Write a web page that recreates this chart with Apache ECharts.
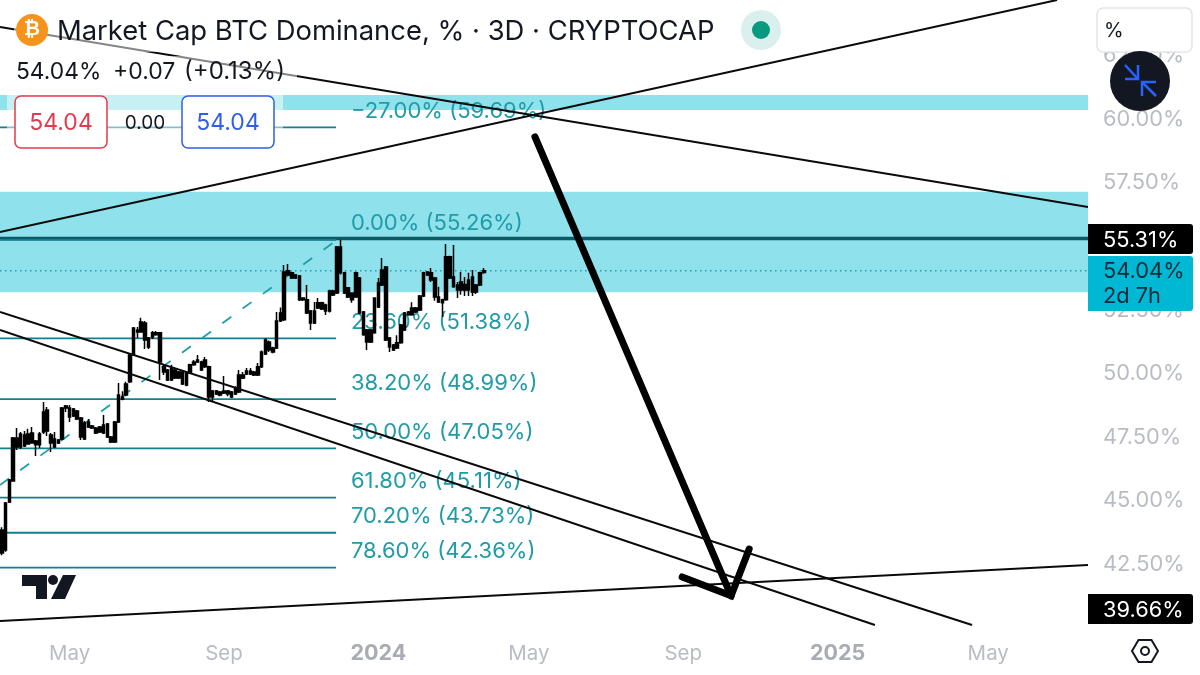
<!DOCTYPE html>
<html><head><meta charset="utf-8">
<style>html,body{margin:0;padding:0;background:#fff}#c{width:1200px;height:675px}</style>
<script src="https://cdn.jsdelivr.net/npm/echarts@6/dist/echarts.min.js"></script></head>
<body><div id="c"></div>
<script>
const opens=[42.93,43.05,44.94,45.77,47.11,47.11,47.15,47.22,47.26,47.19,
47.19,47.7,48.56,47.58,47.42,47.26,47.42,48.64,48.64,48.33,
48.52,48.25,47.42,48.09,47.93,47.85,47.7,47.66,48.01,47.5,
47.3,48.09,49.07,49.15,49.67,50.73,51.71,51.63,51.99,51.4,
51.44,51.6,51.6,50.26,50.14,49.74,50.14,49.82,50.06,49.55,
50.02,50.34,50.45,50.45,50.26,50.26,49.07,49.31,49.15,49.23,
49.31,49.27,49.19,49.27,49.94,49.98,50.1,49.94,49.94,50.26,
50.77,51.24,51.0,51.0,52.07,52.11,54.04,53.96,53.88,53.84,
52.97,52.9,52.46,51.99,52.78,52.78,52.7,52.46,53.25,53.17,
54.98,53.96,53.37,53.17,53.01,53.76,52.42,51.71,51.24,51.6,
52.62,53.48,54.19,51.4,51.12,51.0,51.21,51.71,52.42,52.31,
52.58,52.5,53.05,53.99,53.96,53.76,53.01,52.9,52.9,54.59,
53.8,53.48,53.29,53.5,53.29,53.8,53.48,53.48,53.97];
const closes=[43.84,44.9,45.81,47.46,47.46,47.62,47.58,47.62,47.66,47.34,
47.62,48.48,47.74,47.26,47.11,47.38,48.64,48.72,48.29,48.6,
48.21,47.5,48.05,47.89,47.85,47.66,47.89,47.97,47.5,47.3,
48.09,49.15,48.99,49.59,50.73,51.79,51.63,52.03,51.32,51.04,
51.6,51.52,50.45,50.06,49.74,50.22,49.82,50.06,49.59,50.02,
50.34,50.45,50.53,50.14,50.53,49.07,49.31,49.19,49.27,49.31,
49.19,49.07,49.43,49.94,49.82,50.1,49.98,50.06,50.26,50.85,
51.32,50.92,50.85,52.07,52.38,53.99,53.88,53.76,53.76,52.9,
52.9,52.38,51.99,52.46,52.58,52.54,52.46,53.25,53.09,54.98,
53.96,53.17,53.01,52.9,53.96,52.38,51.52,51.24,51.71,52.97,
53.56,54.07,51.32,51.04,50.92,51.21,51.91,52.38,52.31,52.58,
52.42,53.05,53.96,53.88,53.68,53.01,52.81,52.78,54.59,53.76,
53.41,53.29,53.6,53.29,53.68,53.2,53.21,53.96,54.04];
const lows=[42.85,42.98,44.9,45.77,46.99,47.03,47.11,47.19,47.26,46.75,
47.07,47.62,47.54,46.91,47.07,47.22,47.38,48.48,48.09,48.29,
48.17,47.38,47.38,47.85,47.81,47.62,47.66,47.62,47.46,47.26,
47.26,48.05,48.95,49.1,49.63,50.69,51.4,51.6,50.96,50.96,
51.36,51.48,49.74,49.94,49.7,49.7,49.78,49.78,49.55,49.5,
49.98,50.3,50.41,50.1,50.22,48.88,48.88,49.15,49.1,49.19,
49.1,49.03,49.15,49.23,49.78,49.94,49.94,49.9,49.9,50.22,
50.73,50.85,50.8,50.96,52.03,52.07,53.84,53.72,53.72,52.85,
52.85,52.34,51.71,51.95,52.54,52.5,52.3,52.4,53.05,53.13,
53.9,53.13,52.97,52.78,52.97,52.34,51.48,50.92,51.2,51.56,
52.58,53.44,51.28,50.85,50.88,50.96,51.17,51.67,52.27,52.27,
52.38,52.46,53.01,53.84,53.6,52.86,52.77,52.22,52.86,53.72,
53.37,52.97,53.1,53.05,53.05,53.05,53.13,53.44,53.93];
const highs=[43.95,44.94,45.85,47.5,47.85,47.7,47.74,47.82,47.89,47.38,
47.7,48.88,48.68,47.66,47.7,47.42,48.68,48.76,48.76,48.64,
48.56,48.29,48.13,48.21,47.97,47.89,47.93,48.37,48.05,47.54,
48.13,49.63,49.3,49.67,50.77,51.83,51.83,52.19,52.07,51.44,
51.67,51.67,51.63,50.34,50.18,50.34,50.18,50.1,50.1,50.06,
50.38,50.53,50.73,50.5,50.65,50.3,49.35,49.35,49.31,49.9,
49.35,49.31,49.5,50.14,50.06,50.22,50.22,50.1,50.41,50.9,
51.4,51.3,51.05,52.42,52.6,54.27,54.31,54.0,53.92,53.88,
53.0,53.48,52.5,52.81,52.97,52.82,52.74,53.3,53.3,55.02,
55.26,54.0,53.4,53.2,54.0,53.8,52.46,51.75,51.75,53.0,
53.76,54.55,54.23,51.44,51.16,51.5,51.95,52.42,52.46,52.8,
52.62,53.09,54.0,54.03,54.15,53.8,53.41,52.94,55.1,54.63,
55.06,53.6,53.99,53.8,53.96,54.07,53.52,54.0,54.15];

const tickLabels=['May','Sep','2024','May','Sep','2025','May'];
const tickDates=['2023-05-01','2023-09-01','2024-01-01','2024-05-01','2024-09-01','2025-01-01','2025-05-01'];
const yTicks=[42.5,45,47.5,50,52.5,55,57.5,60,62.5];
const fibLevels=[59.69,55.26,51.38,48.99,47.05,45.11,43.73,42.36];
const fibPercents=['−27.00%','0.00%','23.60%','38.20%','50.00%','61.80%','70.20%','78.60%'];
const zoneUpper=[[60.96,60.37],[57.15,53.2]];
const alertLevel=55.31, lastPrice=54.04;
const trendA=[[-0.5,55.57],[280.27,64.7]];
const trendB=[[-0.5,63.64],[288.5,56.55]];
const trendC=[[-0.5,52.42],[257.7,40.1]];
const trendD=[[-0.5,51.71],[231.9,40.1]];
const trendE=[[-0.5,40.26],[288.5,42.46]];
const fibDiagonal=[[-0.5,45.61],[89.8,55.34]];
const arrowShaft=[[141.6,59.31],[193.7,41.25]];
const arrowHead=[[180.7,41.99],[193.7,41.25],[198.5,43.09]];

const BAR_COUNT=289;
const categories=[];
{const d=new Date(Date.UTC(2023,2,8));
 for(let i=0;i<BAR_COUNT;i++){categories.push(d.toISOString().slice(0,10));d.setUTCDate(d.getUTCDate()+3);}}
const tickIndex={};
tickDates.forEach((t,k)=>{const i=categories.findIndex(c=>c>=t);tickIndex[i]=tickLabels[k];});
const candles=opens.map((o,i)=>[o,closes[i],lows[i],highs[i]]);

const FONT='Inter, "Noto Sans", sans-serif';
const X0=-0.5,X1=288.5,FIB_END=88.75,FIB_TEXT=92.7;
const line=(data,color,width,extra)=>Object.assign({type:'line',xAxisIndex:1,yAxisIndex:0,data,symbol:'none',silent:true,animation:false,clip:true,
  lineStyle:{color,width},z:5},extra||{});

const series=[
 {type:'line',xAxisIndex:1,data:[[X0,50]],symbol:'none',lineStyle:{width:0},silent:true,animation:false,z:1,
  markArea:{silent:true,animation:false,itemStyle:{color:'#8fe1eb'},
   data:zoneUpper.map(z=>[{yAxis:z[0]},{yAxis:z[1]}])}},
 line([[X0,lastPrice],[X1,lastPrice]],'#14a5b4',1.5,{lineStyle:{color:'#14a5b4',width:1.5,type:[1.5,3.5]},z:2}),
 line([[X0,alertLevel],[X1,alertLevel]],'#0c5a68',3.5,{z:2}),
 ...fibLevels.map(v=>line([[X0,v],[FIB_END,v]],'#147f8e',1.8,{z:2})),
 line(fibDiagonal,'#1f9ea8',1.8,{lineStyle:{color:'#1f9ea8',width:1.8,type:[11,14]},z:2}),
 {type:'scatter',xAxisIndex:1,symbolSize:0.01,silent:true,animation:false,z:3,itemStyle:{opacity:1},
  data:fibLevels.map((v,i)=>({value:[FIB_TEXT,v],label:{formatter:fibPercents[i]+' ('+v.toFixed(2)+'%)'}})),
  label:{show:true,position:'right',distance:0,offset:[0,-16],opacity:1,fontFamily:FONT,fontSize:22,color:'#1f9ca8'}},
 {type:'candlestick',xAxisIndex:0,yAxisIndex:0,data:candles,barWidth:3,silent:true,animation:false,z:4,
  itemStyle:{color:'#000',color0:'#000',borderColor:'#000',borderColor0:'#000',borderWidth:1.5}},
 line(trendA,'#0a0a0a',2),line(trendB,'#0a0a0a',2),line(trendC,'#0a0a0a',2),line(trendD,'#0a0a0a',2),line(trendE,'#0a0a0a',2),
 line(arrowShaft,'#000',7,{lineStyle:{color:'#000',width:7,cap:'round'},z:6}),
 line(arrowHead,'#000',7,{lineStyle:{color:'#000',width:7,cap:'round',join:'miter'},z:6})
];

const txt=(x,y,text,size,color,extra)=>({type:'text',x,y,z:30,style:Object.assign({text,fontFamily:FONT,fontSize:size,fill:color,verticalAlign:'middle',align:'left'},extra||{})});
const rect=(x,y,w,h,fill)=>({type:'rect',z:20,shape:{x,y,width:w,height:h},style:{fill}});
const poly=(points,style,z)=>({type:'polygon',z:z||25,shape:{points},style});
const pline=(points)=>({type:'polyline',z:27,shape:{points},style:{fill:null,stroke:'#2962ff',lineWidth:2.5}});
const graphic=[
 rect(14,8,706,44,'rgba(255,255,255,0.5)'),
 rect(7,56,290,32,'rgba(255,255,255,0.5)'),
 rect(7,92,276,60,'rgba(255,255,255,0.5)'),
 {type:'circle',z:25,shape:{cx:32,cy:30,r:16},style:{fill:'#f7931a'}},
 txt(32,30,'₿',20,'#fff',{align:'center',fontWeight:'bold',fontFamily:'"DejaVu Sans", sans-serif'}),
 txt(57,31.5,'Market Cap BTC Dominance, % · 3D · CRYPTOCAP',27.4,'#131722'),
 {type:'circle',z:25,shape:{cx:761,cy:30,r:20},style:{fill:'#d9f0ee'}},
 {type:'circle',z:26,shape:{cx:761,cy:30,r:9},style:{fill:'#089981'}},
 txt(16,72,'54.04%',22.8,'#131722'),
 txt(113,72,'+0.07',23,'#131722'),
 txt(184,72,'(+0.13%)',24,'#131722'),
 {type:'rect',z:25,shape:{x:15,y:96,width:92,height:52,r:6},style:{fill:'#fff',stroke:'#e23b4e',lineWidth:1.5}},
 txt(61,123,'54.04',23,'#e23b4e',{align:'center'}),
 txt(145,123,'0.00',19,'#131722',{align:'center'}),
 {type:'rect',z:25,shape:{x:182,y:96,width:92,height:52,r:6},style:{fill:'#fff',stroke:'#2f5fe6',lineWidth:1.5}},
 txt(228,123,'54.04',23,'#2f5fe6',{align:'center'}),
 {type:'rect',z:25,shape:{x:1097,y:8,width:95,height:44,r:6},style:{fill:'#fff',stroke:'#e4e5ec',lineWidth:1.5}},
 txt(1104,31,'%',20,'#131722'),
 {type:'circle',z:26,shape:{cx:1140,cy:81,r:30},style:{fill:'#131722'}},
 pline([[1125,65],[1138,79]]),pline([[1125,79],[1138,79],[1138,65]]),
 pline([[1156,96],[1142,82]]),pline([[1156,82],[1142,82],[1142,96]]),
 {type:'rect',z:25,shape:{x:1088,y:224,width:105,height:30,r:[0,3,3,0]},style:{fill:'#000'}},
 txt(1103,240,'55.31%',21.8,'#fff'),
 {type:'rect',z:25,shape:{x:1088,y:256,width:105,height:55,r:[0,3,3,0]},style:{fill:'#00b8d4'}},
 txt(1103,271.5,'54.04%',21.8,'#0b2b3a'),
 txt(1103,296,'2d 7h',21.8,'#0b2b3a'),
 {type:'rect',z:25,shape:{x:1088,y:594,width:105,height:30,r:[0,3,3,0]},style:{fill:'#000'}},
 txt(1103,610,'39.66%',21.8,'#fff'),
 poly([[22,575],[47,575],[47,599],[36,599],[36,586],[22,586]],{fill:'#131722'}),
 poly([[63,575],[76,575],[65,599],[51,599]],{fill:'#131722'}),
 {type:'circle',z:25,shape:{cx:53,cy:580,r:5},style:{fill:'#131722'}},
 poly([[1132,651],[1138.5,640],[1151.5,640],[1158,651],[1151.5,662],[1138.5,662]],{fill:null,stroke:'#131722',lineWidth:2}),
 {type:'circle',z:25,shape:{cx:1145,cy:651,r:4},style:{fill:null,stroke:'#131722',lineWidth:2}}
];

const chart=echarts.init(document.getElementById('c'),null,{renderer:'canvas'});
chart.setOption({
 animation:false,backgroundColor:'#fff',
 grid:{left:0,right:112,top:0,bottom:50,containLabel:false},
 xAxis:[
  {type:'category',data:categories,boundaryGap:true,axisLine:{show:false},axisTick:{show:false},splitLine:{show:false},
   axisLabel:{margin:18,fontFamily:FONT,fontSize:20.5,color:'#b9bcc4',hideOverlap:false,
    interval:(i)=>tickIndex[i]!==undefined,
    formatter:(v,i)=>{const t=tickIndex[i];return t&&/^\d/.test(t)?'{b|'+t+'}':t||'';},
    rich:{b:{fontFamily:FONT,fontSize:21.5,fontWeight:'bold',color:'#a9acb5'}}}},
  {type:'value',min:X0,max:X1,show:false,splitLine:{show:false}}
 ],
 yAxis:{type:'value',position:'right',min:40.1,max:64.7,axisLine:{show:false},axisTick:{show:false},splitLine:{show:false},
  axisLabel:{customValues:yTicks,margin:15,align:'left',verticalAlignMinLabel:'middle',padding:[2,0,0,0],fontFamily:FONT,fontSize:21.8,color:'#b9bcc4',formatter:v=>v.toFixed(2)+'%'}},
 series,graphic
});
</script></body></html>
